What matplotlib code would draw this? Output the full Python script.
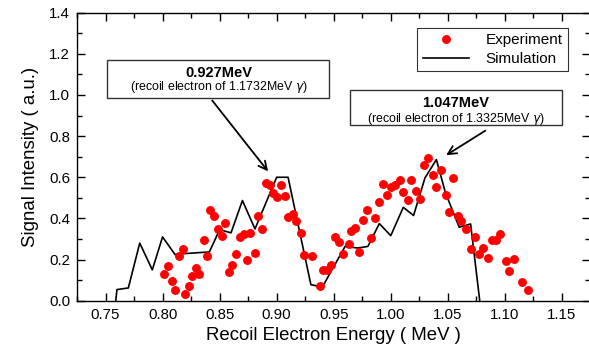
import matplotlib
matplotlib.use("Agg")
import matplotlib.pyplot as plt
from matplotlib.patches import Rectangle
from matplotlib.ticker import MultipleLocator

plt.rcParams['font.family'] = ['Liberation Sans', 'DejaVu Sans']

# Simulation curve
sim_x = [0.759, 0.760, 0.770, 0.780, 0.791, 0.800, 0.811, 0.814, 0.841, 0.850,
         0.860, 0.870, 0.881, 0.900, 0.910, 0.930, 0.940, 0.960, 0.971, 0.980,
         0.990, 1.000, 1.011, 1.020, 1.030, 1.040, 1.048, 1.060, 1.070, 1.078]
sim_y = [0.000, 0.054, 0.062, 0.280, 0.150, 0.310, 0.224, 0.227, 0.237, 0.345,
         0.330, 0.487, 0.349, 0.600, 0.600, 0.078, 0.066, 0.264, 0.256, 0.264,
         0.375, 0.316, 0.454, 0.414, 0.597, 0.686, 0.524, 0.357, 0.373, 0.000]

# Experimental points
exp_x = [0.801, 0.805, 0.808, 0.811, 0.814, 0.818, 0.820, 0.823, 0.826, 0.829,
         0.832, 0.836, 0.839, 0.842, 0.845, 0.849, 0.852, 0.855, 0.858, 0.861,
         0.864, 0.868, 0.871, 0.874, 0.877, 0.881, 0.884, 0.887, 0.891, 0.894,
         0.897, 0.900, 0.904, 0.907, 0.910, 0.914, 0.917, 0.921, 0.924, 0.931,
         0.938, 0.941, 0.944, 0.948, 0.951, 0.955, 0.958, 0.963, 0.965, 0.969,
         0.972, 0.976, 0.979, 0.983, 0.986, 0.990, 0.993, 0.997, 1.000, 1.004,
         1.008, 1.011, 1.015, 1.018, 1.022, 1.026, 1.029, 1.033, 1.037, 1.040,
         1.044, 1.048, 1.051, 1.055, 1.059, 1.062, 1.066, 1.070, 1.074, 1.077,
         1.081, 1.085, 1.089, 1.092, 1.096, 1.101, 1.104, 1.108, 1.115, 1.120]
exp_y = [0.130, 0.167, 0.094, 0.050, 0.219, 0.251, 0.034, 0.070, 0.122, 0.157,
         0.131, 0.297, 0.216, 0.440, 0.414, 0.349, 0.313, 0.378, 0.138, 0.172,
         0.229, 0.308, 0.324, 0.200, 0.329, 0.232, 0.410, 0.349, 0.573, 0.564,
         0.524, 0.504, 0.564, 0.511, 0.407, 0.423, 0.386, 0.329, 0.222, 0.216,
         0.070, 0.148, 0.148, 0.172, 0.310, 0.284, 0.229, 0.276, 0.337, 0.352,
         0.237, 0.394, 0.440, 0.305, 0.402, 0.480, 0.568, 0.516, 0.553, 0.560,
         0.589, 0.527, 0.491, 0.589, 0.535, 0.495, 0.662, 0.694, 0.610, 0.552,
         0.634, 0.514, 0.430, 0.597, 0.410, 0.389, 0.349, 0.251, 0.310, 0.227,
         0.256, 0.208, 0.294, 0.297, 0.324, 0.195, 0.143, 0.204, 0.089, 0.050]

x_ticks = [0.75, 0.80, 0.85, 0.90, 0.95, 1.00, 1.05, 1.10, 1.15]
y_ticks = [0.0, 0.2, 0.4, 0.6, 0.8, 1.0, 1.2, 1.4]

fig = plt.figure(figsize=(5.89, 3.58), dpi=100)
ax = fig.add_axes([77/589, 1 - 300.7/358, (590.4 - 77)/589, (300.7 - 12.7)/358])

ax.plot(exp_x, exp_y, 'o', color='#ff0000', ms=5.4, mec='#ff0000', label='Experiment', zorder=3)
ax.plot(sim_x, sim_y, '-', color='black', lw=1.2, label='Simulation', zorder=2)

ax.set_xlim(0.725, 1.175)
ax.set_ylim(0.0, 1.4)
ax.set_xticks(x_ticks)
ax.set_xticklabels([f"{v:.2f}" for v in x_ticks])
ax.set_yticks(y_ticks)
ax.set_yticklabels([f"{v:.1f}" for v in y_ticks])
ax.xaxis.set_minor_locator(MultipleLocator(0.025))
ax.yaxis.set_minor_locator(MultipleLocator(0.1))
ax.tick_params(which='both', direction='in', top=True, right=True, width=1.0,
               labelsize=10.8, colors='black')
ax.tick_params(which='major', length=6, pad=5)
ax.tick_params(which='minor', length=3.5)
for s in ax.spines.values():
    s.set_linewidth(1.0)

ax.set_xlabel('Recoil Electron Energy ( MeV )', fontsize=13.4, labelpad=4)
ax.set_ylabel('Signal Intensity ( a.u.)', fontsize=13.4, labelpad=7)

leg = ax.legend(loc='upper right', bbox_to_anchor=(0.956, 0.947), borderaxespad=0,
                fontsize=11, frameon=True, fancybox=False, handlelength=3.0,
                handletextpad=1.1, borderpad=0.35, labelspacing=0.3)
leg.get_frame().set_edgecolor('black')
leg.get_frame().set_linewidth(0.8)

# Annotation boxes
for (x0, x1, y0, y1, main, sub, cx, y_main, y_sub) in [
        (0.7515, 0.946, 0.986, 1.170, '0.927MeV',
         r'(recoil electron of 1.1732MeV $\gamma$)', 0.849, 1.107, 1.040),
        (0.9645, 1.150, 0.854, 1.024, '1.047MeV',
         r'(recoil electron of 1.3325MeV $\gamma$)', 1.057, 0.961, 0.882)]:
    ax.add_patch(Rectangle((x0, y0), x1 - x0, y1 - y0, fill=True, facecolor='white',
                           edgecolor='#333333', lw=1.0, zorder=4))
    ax.text(cx, y_main, main, ha='center', va='center', fontsize=10.5,
            fontweight='bold', zorder=5)
    ax.text(cx, y_sub, sub, ha='center', va='center', fontsize=8.9, zorder=5)

ax.annotate('', xy=(0.894, 0.618), xytext=(0.842, 0.984),
            arrowprops=dict(arrowstyle='->', color='black', lw=1.3,
                            mutation_scale=15), zorder=5)
ax.annotate('', xy=(1.0465, 0.700), xytext=(1.085, 0.834),
            arrowprops=dict(arrowstyle='->', color='black', lw=1.3,
                            mutation_scale=15), zorder=5)

fig.savefig('out.png', dpi=100)
